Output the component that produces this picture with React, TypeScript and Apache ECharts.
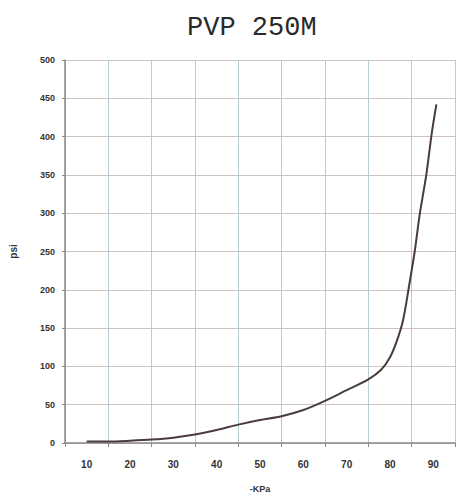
import React, { useEffect, useRef } from "react";
import * as echarts from "echarts";

const categories = ["10", "20", "30", "40", "50", "60", "70", "80", "90"];
const pressureKPa = [10, 15, 20, 25, 30, 35, 40, 45, 50, 55, 60, 65, 70, 75, 78, 80, 81.5, 83, 84.4, 85.7, 86.9, 88.4, 89.6, 90.7];
const flowValues = [2, 2, 3, 4.5, 7, 11, 17, 24, 30, 35, 43, 55, 69, 83, 96, 112, 132, 160, 205, 250, 300, 351, 403, 442];
const titleText = "PVP 250M";
const xName = "-KPa";
const yName = "psi";

export default function App() {
  const ref = useRef<HTMLDivElement>(null);
  useEffect(() => {
    if (!ref.current) return;
    const chart = echarts.init(ref.current, null, { renderer: "svg" });
    const labelStyle = { color: "#333", fontSize: 10, fontWeight: "bold" as const, fontFamily: "Liberation Sans" };
    chart.setOption({
      animation: false,
      backgroundColor: "#ffffff",
      title: {
        text: titleText,
        left: 182,
        top: 9,
        textStyle: { fontFamily: "Liberation Mono", fontSize: 27, fontWeight: "normal", color: "#2a2a2a" },
      },
      grid: { left: 63, right: 2, top: 60, bottom: 51, containLabel: false },
      xAxis: [
        {
          type: "category",
          data: categories,
          boundaryGap: true,
          name: xName,
          nameLocation: "middle",
          nameGap: 41,
          nameTextStyle: { ...labelStyle, fontSize: 9 },
          axisLine: { show: true, lineStyle: { color: "#8a8a8a", width: 1.5 } },
          axisTick: { show: true, length: 4, lineStyle: { color: "#8a8a8a" } },
          axisLabel: { ...labelStyle, margin: 16 },
          splitLine: { show: true, lineStyle: { color: "#b4cdd2", width: 1 } },
        },
        {
          type: "value",
          min: 5,
          max: 95,
          show: false,
          splitLine: { show: false },
        },
      ],
      yAxis: {
        type: "value",
        min: 0,
        max: 500,
        interval: 50,
        name: yName,
        nameLocation: "middle",
        nameGap: 47,
        nameRotate: 90,
        nameTextStyle: { ...labelStyle, fontSize: 10 },
        axisLine: { show: true, lineStyle: { color: "#8a8a8a", width: 1.5 } },
        axisTick: { show: true, length: 3, lineStyle: { color: "#8a8a8a" } },
        axisLabel: { ...labelStyle, fontSize: 9, margin: 10 },
        splitLine: { show: true, lineStyle: { color: "#cfc2c2", width: 1 } },
      },
      series: [
        {
          type: "line",
          xAxisIndex: 1,
          data: pressureKPa.map((x, i) => [x, flowValues[i]]),
          smooth: 0.3,
          showSymbol: false,
          lineStyle: { color: "#4a3c3c", width: 2 },
        },
      ],
    });
    return () => chart.dispose();
  }, []);
  return <div ref={ref} style={{ position: "absolute", left: 0, top: 0, width: 457, height: 498 }} />;
}
